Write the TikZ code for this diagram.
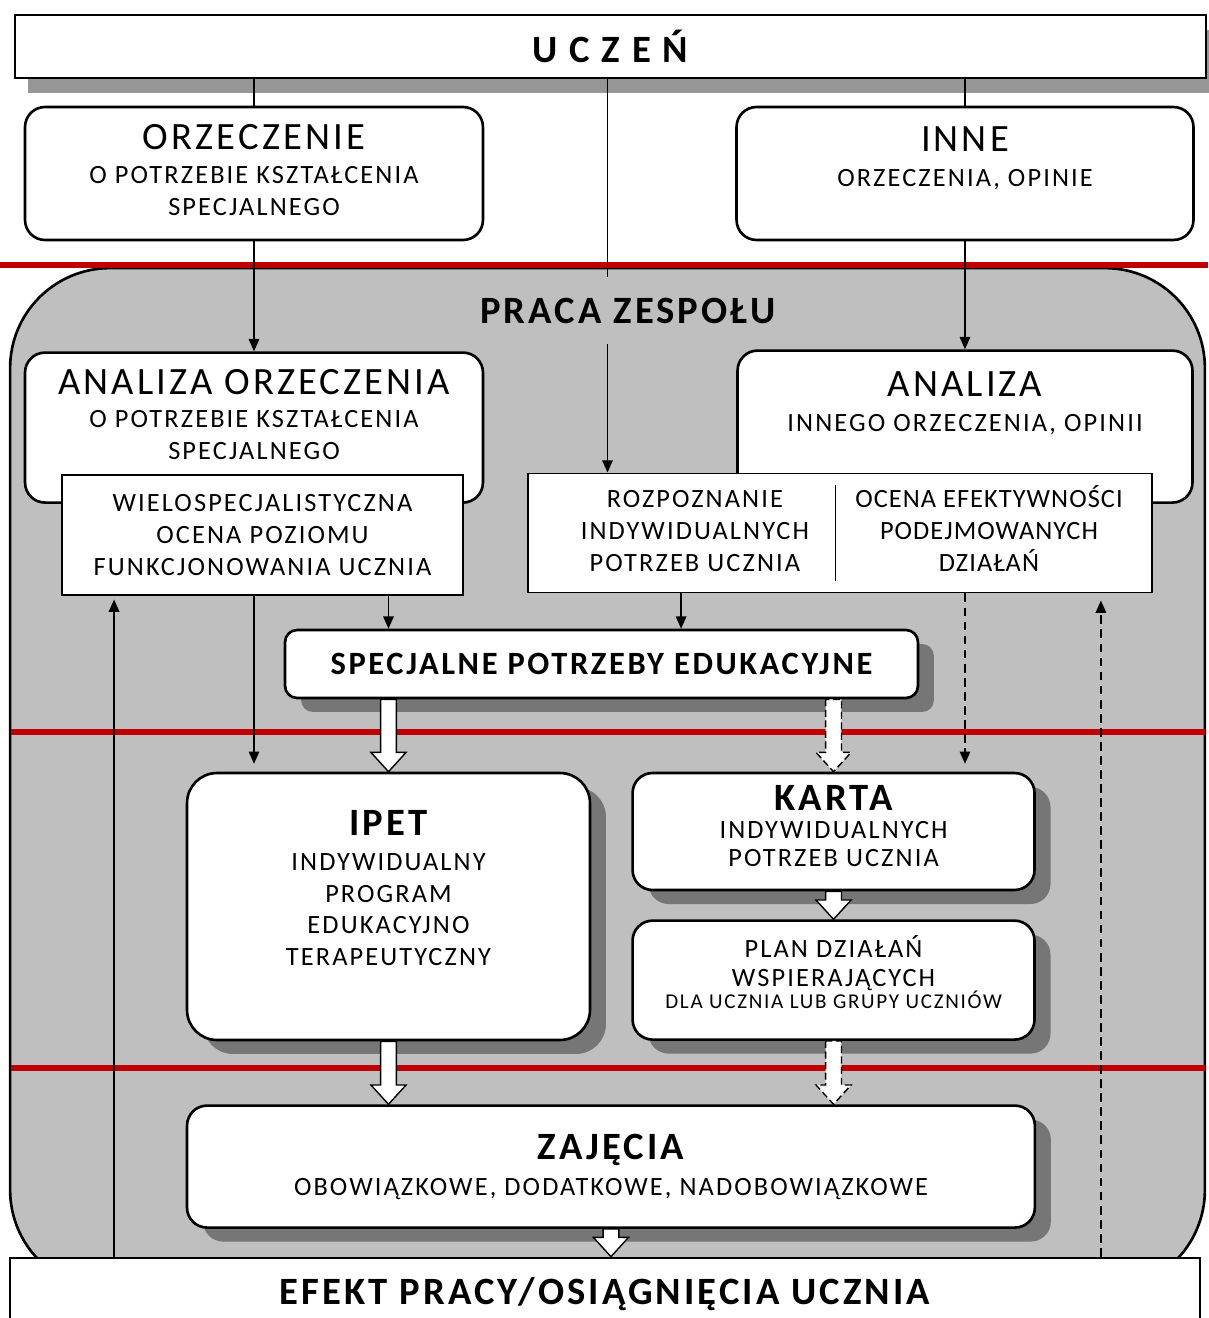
\documentclass[tikz,border=0pt]{standalone}
\usepackage{fontspec}
\setmainfont{Carlito}[LetterSpace=8]
\newfontfamily\narrowfont{Carlito}[LetterSpace=4]
\usetikzlibrary{positioning,calc,arrows.meta,shadows}
\definecolor{TeamGray}{RGB}{191,191,191}
\definecolor{ShadowGray}{RGB}{118,118,118}
\definecolor{StripGray}{RGB}{150,150,150}
\definecolor{LineRed}{RGB}{192,0,0}
\newcommand{\hd}{\fontsize{22}{26}\selectfont}
\newcommand{\bd}{\fontsize{15}{18.2}\selectfont}
\newcommand{\sm}{\fontsize{12}{14}\selectfont}
\newcommand{\bigarrow}[3][]{%
  \draw[blockarrow,#1] let \p1=(#2), \p2=(#3) in
    (\x1-4.5pt,\y1) -- (\x1-4.5pt,\y2+11pt) -- (\x1-10pt,\y2+11pt) -- (\x1,\y2)
    -- (\x1+10pt,\y2+11pt) -- (\x1+4.5pt,\y2+11pt) -- (\x1+4.5pt,\y1) -- cycle;}
\tikzset{%
  box/.style={%
    draw, line width=1.5pt, fill=white, rounded corners=0.4cm,
    align=center, inner sep=0pt, font=\bd
  },
  flatbox/.style={%
    draw, line width=1.1pt, fill=white, align=center, inner sep=0pt, font=\bd
  },
  shadowbox/.style={%
    box, drop shadow={shadow xshift=0.32cm, shadow yshift=-0.28cm, fill=ShadowGray, opacity=1}
  },
  team/.style={%
    draw, line width=1.5pt, fill=TeamGray, rounded corners=2cm,
    minimum width=23.9cm, minimum height=20.44cm
  },
  conn/.style={line width=0.8pt},
  arrow/.style={conn, -{Triangle[length=7pt,width=6pt]}},
  dasharrow/.style={arrow, dash pattern=on 5pt off 3pt},
  redline/.style={draw=LineRed, line width=3.5pt},
  blockarrow/.style={draw, fill=white, line width=0.8pt, line join=miter},
}

\begin{document}
\begin{tikzpicture}[x=0.02cm, y=-0.02cm]
    \fill[white] (0,0) rectangle (1208,1318);
    \useasboundingbox (0,0) rectangle (1208,1318);

    \node (UCZEN)[flatbox, line width=1.5pt, minimum width=23.82cm, minimum height=1.26cm,
        drop shadow={shadow xshift=0.26cm, shadow yshift=-0.3cm, fill=StripGray, opacity=1}]
        at (610.5,46.5) {\hd\bfseries U C Z E Ń};
    \node (ORZ)[box, minimum width=9.16cm, minimum height=2.66cm] at (254,173.5) {
        {\hd ORZECZENIE}\\[1.1pt] O POTRZEBIE KSZTAŁCENIA\\ SPECJALNEGO\\[-14pt]\mbox{}
    };
    \node (INNE)[box, minimum width=9.14cm, minimum height=2.66cm, right=5.02cm of ORZ] {
        {\hd INNE}\\[2.2pt] ORZECZENIA, OPINIE\\[1pt]\mbox{}
    };

    \node (TEAM)[team] at (607.5,779) {};
    \draw[redline] (0,265) -- (1208,265);
    \draw[redline] (11,732) -- (1205,732);
    \draw[redline] (11,1068) -- (1205,1068);

    \node (TITLE)[font=\hd\bfseries, inner sep=0pt] at (628,311) {PRACA ZESPOŁU};
    \node (AOR)[box, minimum width=9.16cm, minimum height=3cm, below=2.2cm of ORZ] {
        {\hd ANALIZA ORZECZENIA}\\[0.5pt] O POTRZEBIE KSZTAŁCENIA\\ SPECJALNEGO\\[-3pt]\mbox{}
    };
    \node (AIN)[box, minimum width=9.1cm, minimum height=3.04cm, below=2.16cm of INNE] {
        {\hd ANALIZA}\\[1.6pt] INNEGO ORZECZENIA, OPINII\\[10.5pt]\mbox{}
    };
    \node (WIELO)[flatbox, minimum width=8.02cm, minimum height=2.4cm] at (262.5,535) {
        WIELOSPECJALISTYCZNA\\ OCENA POZIOMU\\ FUNKCJONOWANIA UCZNIA
    };
    \node (ROZP)[flatbox, minimum width=12.48cm, minimum height=2.38cm] at (840,533) {
        \begin{tabular}{@{\hspace{18pt}}c@{\hspace{15pt}\vrule\hspace{11pt}}c@{}}
            ROZPOZNANIE & \narrowfont\smash{OCENA EFEKTYWNOŚCI}\\
            INDYWIDUALNYCH & \narrowfont PODEJMOWANYCH\\
            POTRZEB UCZNIA & \narrowfont\smash{DZIAŁAŃ}
        \end{tabular}
    };

    \node (SPE)[shadowbox, rounded corners=0.24cm, minimum width=12.66cm, minimum height=1.36cm]
        at (601.5,664) {\fontsize{18.5}{22}\selectfont\bfseries SPECJALNE POTRZEBY EDUKACYJNE};
    \node (IPET)[shadowbox, rounded corners=0.6cm, minimum width=8.06cm, minimum height=5.34cm]
        at (388.5,906.5) {
        {\hd\bfseries IPET}\\[1.6pt] INDYWIDUALNY\\ PROGRAM\\ EDUKACYJNO\\ TERAPEUTYCZNY\\[2.8pt]\mbox{}
    };
    \node (KARTA)[shadowbox, minimum width=8.04cm, minimum height=2.34cm,
        right=0.8cm of IPET.north east, anchor=north west] {
        {\hd\bfseries KARTA}\\[-2.3pt] INDYWIDUALNYCH\\[-2.3pt] POTRZEB UCZNIA\\[-12pt]\mbox{}
    };
    \node (PLAN)[shadowbox, minimum width=8.04cm, minimum height=2.38cm, below=0.56cm of KARTA] {
        PLAN DZIAŁAŃ\\[-1.8pt] WSPIERAJĄCYCH\\[-5.2pt] {\sm DLA UCZNIA LUB GRUPY UCZNIÓW}\\[-9pt]\mbox{}
    };
    \node (ZAJ)[shadowbox, minimum width=16.96cm, minimum height=2.44cm,
        below=1.26cm of IPET.south west, anchor=north west] {
        {\hd\bfseries ZAJĘCIA}\\[2.2pt] OBOWIĄZKOWE, DODATKOWE, NADOBOWIĄZKOWE
    };
    \node (EFEKT)[flatbox, line width=1.5pt, minimum width=23.8cm, minimum height=1.44cm]
        at (605,1294) {\hd\bfseries EFEKT PRACY/OSIĄGNIĘCIA UCZNIA};

    \coordinate (upL) at ($(WIELO.south west)+(53,0)$);
    \coordinate (upR) at ($(ROZP.south east)+(-52,0)$);
    \coordinate (rzp) at ($(ROZP.south west)+(154,0)$);

    \draw[conn] (UCZEN.south -| ORZ.north) -- (ORZ.north);
    \draw[conn] (UCZEN.south -| AIN.north) -- (INNE.north -| AIN.north);
    \draw[conn] (UCZEN.south -| TEAM.north) -- ($(TEAM.north)+(0,10)$);
    \draw[arrow] (ORZ.south) -- (AOR.north);
    \draw[arrow] (INNE.south -| AIN.north) -- (AIN.north);
    \draw[arrow] ($(TITLE.south -| TEAM.north)+(0,20)$) -- (ROZP.north -| TEAM.north);
    \draw[arrow] (WIELO.south -| IPET.north) -- (SPE.north -| IPET.north);
    \draw[arrow] (rzp) -- (rzp |- SPE.north);
    \draw[arrow, shorten >=4.5pt] (WIELO.south -| AOR.south) -- (IPET.north -| AOR.south);
    \draw[dasharrow, shorten >=4.5pt] (ROZP.south -| AIN.north) -- (KARTA.north -| AIN.north);
    \draw[arrow, shorten >=2pt] (upL |- EFEKT.north) -- (upL);
    \draw[dasharrow, shorten >=4pt] (upR |- EFEKT.north) -- (upR);

    \bigarrow{SPE.south -| IPET.north}{IPET.north}
    \bigarrow[dash pattern=on 4pt off 2pt]{SPE.south -| KARTA.north}{KARTA.north}
    \bigarrow{KARTA.south}{PLAN.north}
    \bigarrow{IPET.south}{ZAJ.north -| IPET.south}
    \bigarrow[dash pattern=on 4pt off 2pt]{PLAN.south}{ZAJ.north -| PLAN.south}
    \bigarrow{ZAJ.south}{EFEKT.north -| ZAJ.south}
\end{tikzpicture}
\end{document}
